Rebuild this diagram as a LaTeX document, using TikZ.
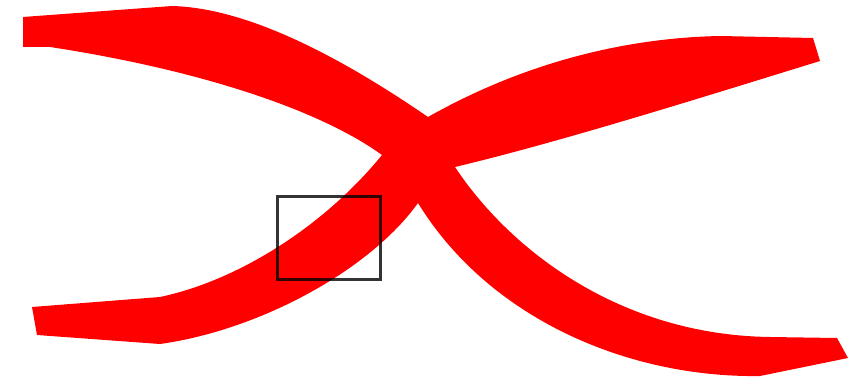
\documentclass[tikz,border=0pt]{standalone}
\usepackage{tikz}
\tikzset{
  crossband/.style={fill=red, draw=none},
  zoombox/.style={draw=black, draw opacity=0.8, line width=3pt, fill=none},
}

\begin{document}
\begin{tikzpicture}[x=1pt, y=-1pt]
  \useasboundingbox (0,0) rectangle (851,379);

  % Band from top left to bottom right
  \fill[crossband] (23,17) -- (172,6)
    .. controls (250,8) and (345,60) .. (428,117)
    -- (455,167)
    .. controls (510,250) and (620,335) .. (770,337)
    -- (837,338) -- (848,358) -- (760,376)
    .. controls (630,378) and (490,320) .. (418,203)
    -- (382,155)
    .. controls (320,110) and (200,70) .. (50,47)
    -- (23,47) -- cycle;

  % Band from bottom left to top right
  \fill[crossband] (32,307) -- (160,297)
    .. controls (240,280) and (325,225) .. (382,155)
    -- (428,117)
    .. controls (520,65) and (620,38) .. (720,36)
    -- (813,38) -- (820,61)
    .. controls (700,98) and (560,142) .. (455,167)
    -- (418,203)
    .. controls (370,270) and (260,330) .. (160,344)
    -- (37,335) -- cycle;

  % Box over the lower arm
  \draw[zoombox] (277,197) rectangle (380,280);
\end{tikzpicture}
\end{document}
